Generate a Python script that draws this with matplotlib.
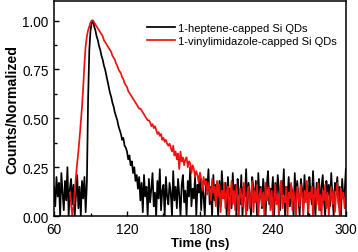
import numpy as np
import matplotlib
matplotlib.use("Agg")
import matplotlib.pyplot as plt
from matplotlib.ticker import MultipleLocator

plt.rcParams['font.family'] = ['Liberation Sans', 'DejaVu Sans']

# time axis, 1 ns steps
black_t = np.arange(60, 301)
red_t = np.arange(73, 301)

# 1-heptene-capped Si QDs
black_v = [
    0.15, 0.05, 0.2, 0.1, 0.17, 0.0, 0.22, 0.12, 0.03, 0.18,
    0.08, 0.25, 0.0, 0.14, 0.19, 0.06, 0.16, 0.0, 0.11, 0.21,
    0.04, 0.15, 0.0, 0.18, 0.09, 0.2, 0.02, 0.17,
    0.6, 0.85, 0.95, 0.99, 1.0, 0.97, 0.95, 0.92, 0.9, 0.87,
    0.85, 0.82, 0.8, 0.77, 0.75, 0.72, 0.69, 0.66, 0.63, 0.61,
    0.58, 0.56, 0.53, 0.51, 0.49, 0.46, 0.44, 0.42, 0.39, 0.40,
    0.36, 0.35, 0.33, 0.29, 0.31, 0.26, 0.28, 0.22, 0.25, 0.18,
    0.21, 0.14, 0.2,
    0.08, 0.17, 0.02, 0.21, 0.1, 0.15, 0.0, 0.19, 0.07, 0.14,
    0.22, 0.05, 0.12, 0.0, 0.18, 0.09, 0.24, 0.03, 0.13, 0.16,
    0.0, 0.2, 0.1, 0.06, 0.17, 0.12, 0.0, 0.23, 0.08, 0.15,
    0.04, 0.19, 0.11, 0.0, 0.16, 0.21, 0.07, 0.13, 0.0, 0.18,
    0.1, 0.25, 0.05, 0.14, 0.09, 0.2, 0.0, 0.16, 0.12, 0.22,
    0.03, 0.17, 0.1, 0.0, 0.19, 0.13, 0.24, 0.06, 0.15, 0.0,
    0.21, 0.08, 0.16, 0.11, 0.0, 0.18, 0.05, 0.23, 0.12, 0.09,
    0.17, 0.0, 0.2, 0.1, 0.14, 0.04, 0.22, 0.08, 0.16, 0.0,
    0.19, 0.12, 0.06, 0.21, 0.0, 0.15, 0.1, 0.24, 0.03, 0.17,
    0.11, 0.0, 0.2, 0.14, 0.07, 0.18, 0.0, 0.22, 0.09, 0.15,
    0.04, 0.19, 0.12, 0.0, 0.16, 0.23, 0.06, 0.14, 0.1, 0.2,
    0.0, 0.17, 0.08, 0.21, 0.13, 0.03, 0.18, 0.11, 0.24, 0.0,
    0.15, 0.09, 0.2, 0.05, 0.16, 0.12, 0.0, 0.22, 0.07, 0.18,
    0.1, 0.0, 0.19, 0.14, 0.04, 0.21, 0.09, 0.16, 0.0, 0.2,
    0.12, 0.06, 0.23, 0.1, 0.0, 0.17, 0.13, 0.19, 0.03, 0.15,
    0.21, 0.08, 0.0, 0.18, 0.11, 0.16, 0.05, 0.22, 0.1, 0.0,
    0.17, 0.13, 0.2, 0.06, 0.15, 0.0, 0.19, 0.09, 0.12, 0.24,
]

# 1-vinylimidazole-capped Si QDs
red_v = [
    0.12, 0.06, 0.0, 0.05, 0.12, 0.2, 0.27, 0.33,
    0.4, 0.48, 0.56, 0.66, 0.78, 0.87, 0.92, 0.95, 0.97, 0.99, 1.0,
    1.0, 0.99, 0.98, 0.97, 0.96, 0.95, 0.94, 0.93, 0.92, 0.9,
    0.89, 0.88, 0.87, 0.86, 0.85, 0.84, 0.82, 0.81, 0.8, 0.78,
    0.77, 0.75, 0.74, 0.73, 0.71, 0.7, 0.68, 0.67, 0.66, 0.64,
    0.63, 0.62, 0.61, 0.6, 0.59, 0.58, 0.57, 0.56, 0.55, 0.55,
    0.54, 0.53, 0.52, 0.51, 0.5, 0.49, 0.49, 0.48, 0.46, 0.47,
    0.45, 0.46, 0.44, 0.42, 0.43, 0.41, 0.42, 0.39, 0.4, 0.38,
    0.39, 0.37, 0.36, 0.37, 0.35, 0.33, 0.36, 0.31, 0.33, 0.29,
    0.32, 0.24, 0.33, 0.28, 0.3, 0.26, 0.29, 0.3, 0.25, 0.28,
    0.27, 0.22, 0.26, 0.24, 0.2, 0.23, 0.21, 0.17, 0.22, 0.19,
    0.13, 0.2, 0.16, 0.18, 0.11, 0.17, 0.14, 0.08, 0.19, 0.12,
    0.15, 0.05, 0.18, 0.1, 0.16, 0.02, 0.13, 0.09, 0.17, 0.04,
    0.12, 0.15, 0.0, 0.1, 0.18, 0.06, 0.13, 0.03, 0.16, 0.09,
    0.0, 0.14, 0.11, 0.05, 0.17, 0.08, 0.0, 0.12, 0.15, 0.04,
    0.1, 0.18, 0.02, 0.13, 0.07, 0.16, 0.0, 0.11, 0.14, 0.05,
    0.12, 0.0, 0.17, 0.08, 0.1, 0.15, 0.03, 0.13, 0.0, 0.09,
    0.16, 0.06, 0.11, 0.0, 0.14, 0.18, 0.04, 0.1, 0.07, 0.15,
    0.0, 0.12, 0.09, 0.17, 0.03, 0.13, 0.08, 0.0, 0.15, 0.1,
    0.05, 0.16, 0.11, 0.0, 0.13, 0.07, 0.18, 0.02, 0.12, 0.09,
    0.15, 0.0, 0.1, 0.14, 0.06, 0.17, 0.03, 0.11, 0.0, 0.13,
    0.08, 0.16, 0.04, 0.12, 0.0, 0.1, 0.15, 0.06, 0.13, 0.02,
    0.11, 0.17, 0.07, 0.0, 0.14, 0.09, 0.12, 0.04, 0.1,
]

labels = ['1-heptene-capped Si QDs', '1-vinylimidazole-capped Si QDs']

n = min(len(black_t), len(black_v))
m = min(len(red_t), len(red_v))

fig = plt.figure(figsize=(3.58, 2.53), dpi=100)
ax = fig.add_axes([0.151, 0.142, 0.815, 0.850])

ax.plot(black_t[:n], black_v[:n], color='black', lw=1.25, label=labels[0])
ax.plot(red_t[:m], red_v[:m], color='#ee1111', lw=1.25, label=labels[1])

ax.set_xlim(60, 300)
ax.set_ylim(0, 1.1)
ax.xaxis.set_major_locator(MultipleLocator(60))
ax.xaxis.set_minor_locator(MultipleLocator(30))
ax.yaxis.set_major_locator(MultipleLocator(0.25))
ax.yaxis.set_minor_locator(MultipleLocator(0.125))
ax.yaxis.set_major_formatter(matplotlib.ticker.FormatStrFormatter('%.2f'))
ax.tick_params(which='both', direction='in', labelsize=9.8, width=1.0)
ax.tick_params(which='major', length=3.5, pad=4)
ax.tick_params(which='minor', length=2)
for s in ax.spines.values():
    s.set_linewidth(1.1)

ax.set_xlabel('Time (ns)', fontsize=9.5, fontweight='bold', labelpad=1)
ax.set_ylabel('Counts/Normalized', fontsize=10.2, fontweight='bold', labelpad=2)

ax.legend(loc='upper left', bbox_to_anchor=(0.32, 0.90), frameon=False,
          fontsize=8, handlelength=2.5, handletextpad=0.25,
          labelspacing=0.3, borderpad=0, borderaxespad=0)

fig.savefig('out.png', dpi=100)
